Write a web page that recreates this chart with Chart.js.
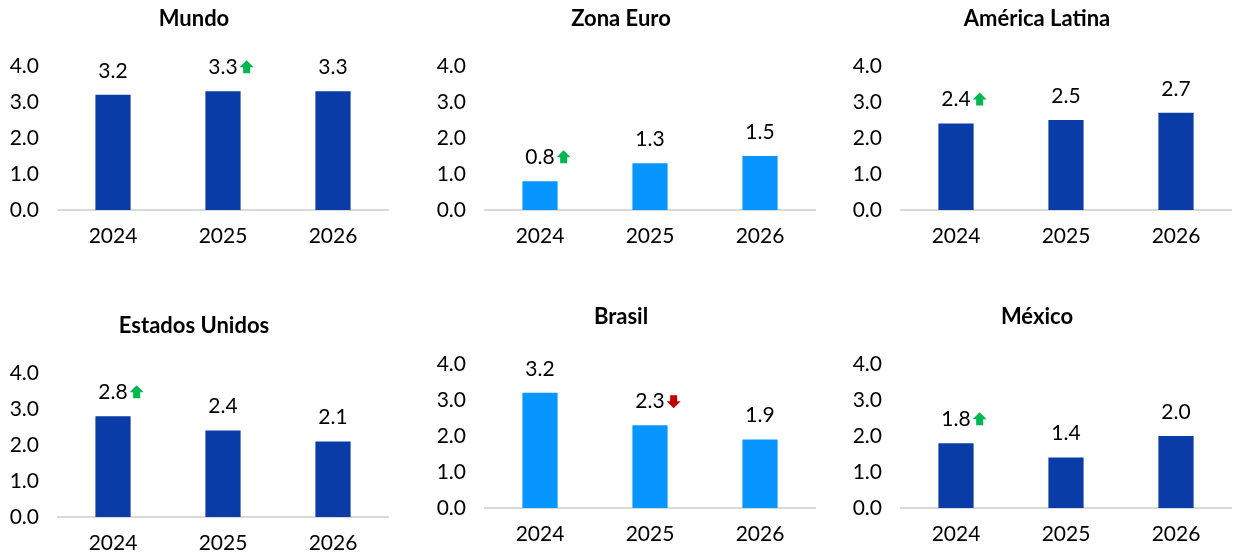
<!DOCTYPE html>
<html>
<head>
<meta charset="utf-8">
<script src="https://cdn.jsdelivr.net/npm/chart.js@4"></script>
<style>
  html, body { margin: 0; padding: 0; background: #fff; overflow: hidden; width: 1233px; height: 552px; }
  canvas { position: absolute; }
</style>
</head>
<body>
<canvas id="c0" width="410" height="260"></canvas>
<canvas id="c1" width="410" height="260"></canvas>
<canvas id="c2" width="410" height="260"></canvas>
<canvas id="c3" width="410" height="260"></canvas>
<canvas id="c4" width="410" height="260"></canvas>
<canvas id="c5" width="410" height="260"></canvas>
<script>
// GDP growth by region, %
const years = ["2024", "2025", "2026"];
const yTickLabels = ["0.0", "1.0", "2.0", "3.0", "4.0"];

const mundo = [3.2, 3.3, 3.3];
const zonaEuro = [0.8, 1.3, 1.5];
const americaLatina = [2.4, 2.5, 2.7];
const estadosUnidos = [2.8, 2.4, 2.1];
const brasil = [3.2, 2.3, 1.9];
const mexico = [1.8, 1.4, 2.0];

// revision arrows next to the value labels
const mundoArrows = [null, "up", null];
const zonaEuroArrows = ["up", null, null];
const americaLatinaArrows = ["up", null, null];
const estadosUnidosArrows = ["up", null, null];
const brasilArrows = [null, "down", null];
const mexicoArrows = ["up", null, null];

const darkBlue = "#0A3CA8";
const lightBlue = "#0796FF";
const font = "Lato";

const panels = [
    { id: "c0", title: "Mundo", data: mundo, arrows: mundoArrows, color: darkBlue, left: 0, top: 0 },
    { id: "c1", title: "Zona Euro", data: zonaEuro, arrows: zonaEuroArrows, color: lightBlue, left: 427, top: 0 },
    { id: "c2", title: "América Latina", data: americaLatina, arrows: americaLatinaArrows, color: darkBlue, left: 843, top: 0 },
    { id: "c3", title: "Estados Unidos", data: estadosUnidos, arrows: estadosUnidosArrows, color: darkBlue, left: 0, top: 307 },
    { id: "c4", title: "Brasil", data: brasil, arrows: brasilArrows, color: lightBlue, left: 427, top: 298 },
    { id: "c5", title: "México", data: mexico, arrows: mexicoArrows, color: darkBlue, left: 843, top: 298 }
];

// draws the value above each bar, plus the arrow when there is one
const valueLabels = {
    id: "valueLabels",
    afterDatasetsDraw(chart, args, opts) {
        const ctx = chart.ctx;
        const meta = chart.getDatasetMeta(0);
        const values = chart.data.datasets[0].data;
        ctx.save();
        ctx.font = "21px " + font;
        ctx.textAlign = "center";
        ctx.textBaseline = "middle";
        meta.data.forEach((bar, i) => {
            const txt = values[i].toFixed(1);
            const y = bar.y - 24;
            ctx.fillStyle = "#000";
            ctx.fillText(txt, bar.x, y);
            const dir = opts.arrows[i];
            if (!dir) return;
            const w = ctx.measureText(txt).width;
            const cx = bar.x + w / 2 + 9;
            ctx.beginPath();
            if (dir === "up") {
                ctx.fillStyle = "#00B850";
                ctx.moveTo(cx, y - 7);
                ctx.lineTo(cx + 7, y);
                ctx.lineTo(cx + 3.5, y);
                ctx.lineTo(cx + 3.5, y + 6);
                ctx.lineTo(cx - 3.5, y + 6);
                ctx.lineTo(cx - 3.5, y);
                ctx.lineTo(cx - 7, y);
            } else {
                ctx.fillStyle = "#C00000";
                ctx.moveTo(cx, y + 7);
                ctx.lineTo(cx + 7, y);
                ctx.lineTo(cx + 3.5, y);
                ctx.lineTo(cx + 3.5, y - 6);
                ctx.lineTo(cx - 3.5, y - 6);
                ctx.lineTo(cx - 3.5, y);
                ctx.lineTo(cx - 7, y);
            }
            ctx.closePath();
            ctx.fill();
        });
        ctx.restore();
    }
};

panels.forEach(p => {
    const canvas = document.getElementById(p.id);
    canvas.style.left = p.left + "px";
    canvas.style.top = p.top + "px";
    new Chart(canvas.getContext("2d"), {
        type: "bar",
        data: {
            labels: years,
            datasets: [{
                data: p.data,
                backgroundColor: p.color,
                borderWidth: 0,
                barPercentage: 0.32,
                categoryPercentage: 1
            }]
        },
        options: {
            responsive: false,
            animation: false,
            layout: { padding: { left: 0, right: 22, top: 0, bottom: 0 } },
            plugins: {
                legend: { display: false },
                tooltip: { enabled: false },
                title: {
                    display: true,
                    text: p.title,
                    color: "#000",
                    font: { family: font, size: 22, weight: "bold", lineHeight: 1.2 },
                    padding: { top: 6, bottom: 33.6 }
                },
                valueLabels: { arrows: p.arrows }
            },
            scales: {
                x: {
                    grid: { display: false, drawTicks: false },
                    border: { display: true, color: "#D9D9D9", width: 2 },
                    ticks: { color: "#000", padding: 14, font: { family: font, size: 21 } },
                    afterFit: scale => { scale.height = 50; }
                },
                y: {
                    min: 0,
                    max: 4,
                    grid: { display: false, drawTicks: false },
                    border: { display: false },
                    ticks: {
                        stepSize: 1,
                        color: "#000",
                        padding: 19,
                        font: { family: font, size: 21 },
                        callback: (v, i) => yTickLabels[i]
                    },
                    afterFit: scale => { scale.width = 58; }
                }
            }
        },
        plugins: [valueLabels]
    });
});
</script>
</body>
</html>
